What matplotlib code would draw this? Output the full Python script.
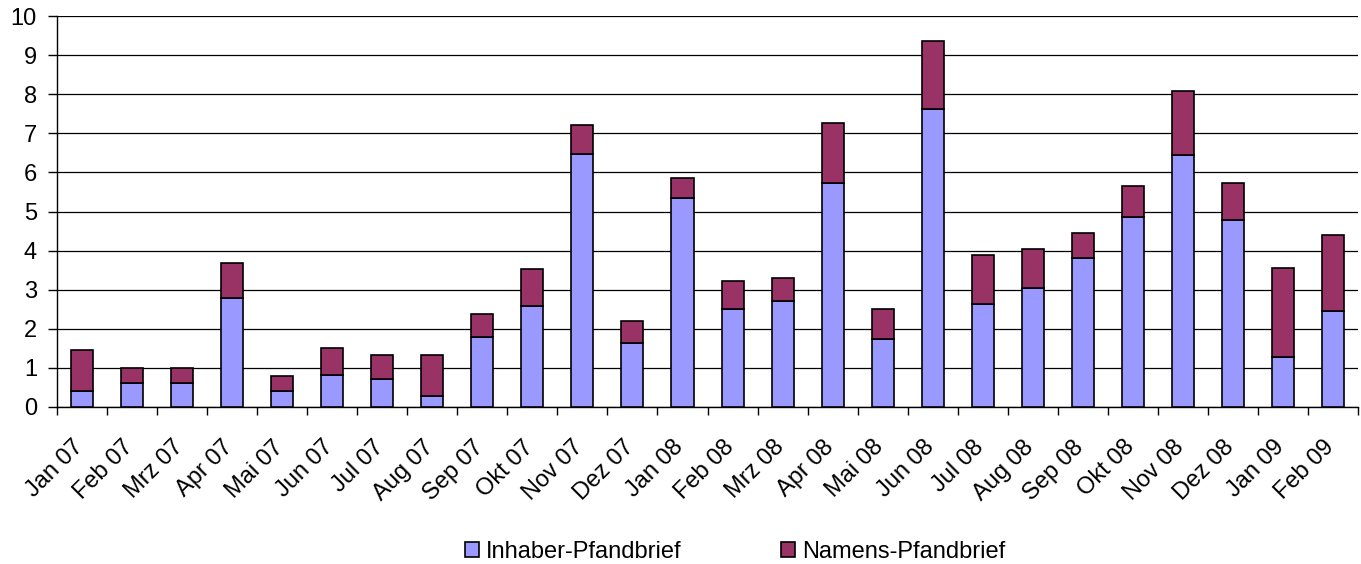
import numpy as np
import matplotlib
matplotlib.use("Agg")
import matplotlib.pyplot as plt
from matplotlib.transforms import ScaledTranslation

plt.rcParams['font.family'] = ['Liberation Sans', 'DejaVu Sans']

# Monthly values
months = ['Jan 07', 'Feb 07', 'Mrz 07', 'Apr 07', 'Mai 07', 'Jun 07', 'Jul 07',
          'Aug 07', 'Sep 07', 'Okt 07', 'Nov 07', 'Dez 07', 'Jan 08', 'Feb 08',
          'Mrz 08', 'Apr 08', 'Mai 08', 'Jun 08', 'Jul 08', 'Aug 08', 'Sep 08',
          'Okt 08', 'Nov 08', 'Dez 08', 'Jan 09', 'Feb 09']

inhaber = [0.42, 0.62, 0.62, 2.80, 0.42, 0.83, 0.72, 0.28, 1.79, 2.59, 6.47, 1.63,
           5.35, 2.50, 2.71, 5.72, 1.74, 7.61, 2.63, 3.05, 3.82, 4.85, 6.45, 4.77,
           1.29, 2.46]

total = [1.47, 1.00, 1.00, 3.68, 0.80, 1.51, 1.34, 1.34, 2.39, 3.52, 7.20, 2.21,
         5.86, 3.22, 3.31, 7.27, 2.50, 9.37, 3.88, 4.05, 4.44, 5.65, 8.08, 5.73,
         3.56, 4.40]

namens = [round(t - i, 2) for t, i in zip(total, inhaber)]

fig = plt.figure(figsize=(13.61, 5.64), dpi=100)
ax = fig.add_axes([0.0419, 0.2784, 0.9559, 0.6932])

x = np.arange(len(months))
bw = 0.44
ax.bar(x, inhaber, bw, color='#9999FF', edgecolor='black', linewidth=1.2,
       label='Inhaber-Pfandbrief', zorder=3)
ax.bar(x, namens, bw, bottom=inhaber, color='#993366', edgecolor='black',
       linewidth=1.2, label='Namens-Pfandbrief', zorder=3)

ax.set_xlim(-0.5, len(months) - 0.5)
ax.set_ylim(0, 10)
ax.set_yticks(range(0, 11))
ax.yaxis.grid(True, color='black', linewidth=0.9, zorder=0)
ax.set_axisbelow(True)

# ticks at category boundaries, labels at centres
ax.set_xticks(np.arange(-0.5, len(months)), minor=False)
ax.set_xticklabels([])
ax.set_xticks(x, minor=True)
ax.set_xticklabels(months, minor=True, rotation=45, ha='right', va='top',
                   rotation_mode='anchor', fontsize=17)
ax.tick_params(axis='x', which='major', length=6, width=1, direction='out')
ax.tick_params(axis='x', which='minor', length=0, pad=21)
ax.tick_params(axis='y', length=6.5, width=1, pad=8, labelsize=17)

# shift the rotated labels a little to the left, like the original
shift = ScaledTranslation(-0.10, 0, fig.dpi_scale_trans)
for lab in ax.get_xticklabels(minor=True):
    lab.set_transform(lab.get_transform() + shift)

for s in ['top', 'right']:
    ax.spines[s].set_visible(False)
ax.spines['left'].set_linewidth(1)
ax.spines['bottom'].set_linewidth(1)

fig.legend(loc='center', bbox_to_anchor=(0.54, 0.021), ncol=2, frameon=False,
           fontsize=17, handlelength=0.6, handleheight=0.6, columnspacing=4.2,
           handletextpad=0.3, borderpad=0.1)

fig.savefig('out.png', dpi=100)
